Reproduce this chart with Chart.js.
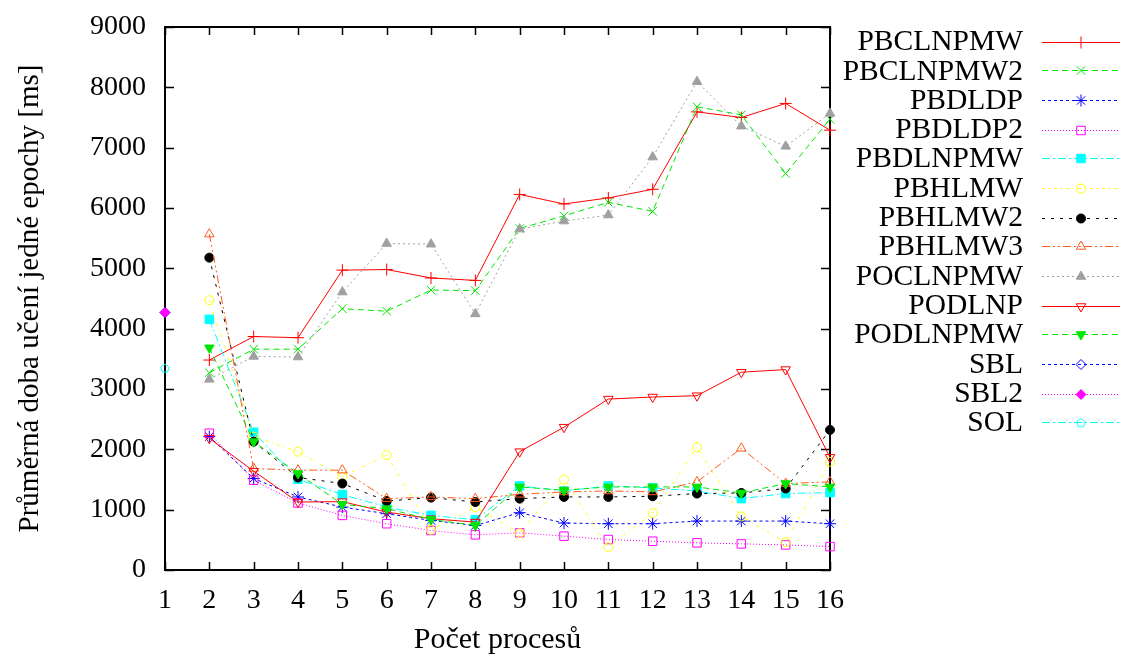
<!DOCTYPE html>
<html>
<head>
<meta charset="utf-8">
<title>Průměrná doba učení jedné epochy</title>
<script src="https://cdn.jsdelivr.net/npm/chart.js"></script>
<style>
  body { margin: 0; background: #fff; }
  canvas { display: block; }
</style>
</head>
<body>
<canvas id="epochChart" width="1125" height="659"></canvas>
<script>
// pocet procesu na ose x
const processes = [1, 2, 3, 4, 5, 6, 7, 8, 9, 10, 11, 12, 13, 14, 15, 16];
const yTicks = [0, 1000, 2000, 3000, 4000, 5000, 6000, 7000, 8000, 9000];

// doba uceni jedne epochy [ms], index 0 = 1 proces
const pbclnpmw  = [null, 3480, 3870, 3850, 4970, 4980, 4840, 4800, 6225, 6067, 6167, 6310, 7593, 7500, 7733, 7290];
const pbclnpmw2 = [null, 3270, 3660, 3660, 4330, 4290, 4640, 4630, 5660, 5870, 6094, 5944, 7678, 7544, 6572, 7470];
const pbdldp    = [null, 2211, 1517, 1211, 1043, 933, 822, 738, 950, 778, 767, 767, 811, 811, 811, 767];
const pbdldp2   = [null, 2267, 1489, 1111, 905, 767, 655, 583, 616, 561, 505, 477, 450, 433, 416, 388];
const pbdlnpmw  = [null, 4155, 2283, 1505, 1250, 1043, 905, 833, 1393, 1310, 1393, 1360, 1310, 1183, 1267, 1283];
const pbhlmw    = [null, 4472, 2211, 1961, 1544, 1905, 667, 1043, 611, 1500, 378, 943, 2033, 888, 461, 1794];
const pbhlmw2   = [null, 5177, 2127, 1533, 1433, 1143, 1200, 1127, 1183, 1211, 1211, 1222, 1267, 1277, 1350, 2322];
const pbhlmw3   = [null, 5567, 1683, 1655, 1655, 1183, 1211, 1183, 1255, 1294, 1310, 1294, 1461, 2017, 1433, 1461];
const poclnpmw  = [null, 3160, 3540, 3530, 4606, 5411, 5400, 4244, 5650, 5783, 5883, 6844, 8094, 7356, 7022, 7567];
const podlnp    = [null, 2183, 1638, 1127, 1133, 960, 850, 794, 1961, 2367, 2833, 2867, 2889, 3278, 3322, 1867];
const podlnpmw  = [null, 3683, 2127, 1600, 1088, 1017, 838, 738, 1377, 1322, 1377, 1377, 1377, 1277, 1433, 1377];
const sbl       = [4267, null, null, null, null, null, null, null, null, null, null, null, null, null, null, null];
const sbl2      = [4267, null, null, null, null, null, null, null, null, null, null, null, null, null, null, null];
const sol       = [3350, null, null, null, null, null, null, null, null, null, null, null, null, null, null, null];

const FONT = "'Liberation Serif', 'DejaVu Serif', serif";
const NONE = 'rgba(0,0,0,0)';

// petiuhelnik pro SOL (Chart.js ho nema)
function pentagon(color) {
    const c = document.createElement('canvas');
    c.width = 12; c.height = 12;
    const g = c.getContext('2d');
    g.strokeStyle = color;
    g.lineWidth = 1;
    g.beginPath();
    for (let i = 0; i < 5; i++) {
        const a = -Math.PI / 2 + i * 2 * Math.PI / 5;
        const px = 6 + 4.5 * Math.cos(a), py = 6.5 + 4.5 * Math.sin(a);
        i === 0 ? g.moveTo(px, py) : g.lineTo(px, py);
    }
    g.closePath();
    g.stroke();
    return c;
}

const series = [
    { label: 'PBCLNPMW',  data: pbclnpmw,  color: '#ff0000', dash: [],               style: 'cross',    fill: false, r: 6 },
    { label: 'PBCLNPMW2', data: pbclnpmw2, color: '#00e600', dash: [6, 4],           style: 'crossRot', fill: false, r: 6 },
    { label: 'PBDLDP',    data: pbdldp,    color: '#0000ff', dash: [3, 3],           style: 'star',     fill: false, r: 6 },
    { label: 'PBDLDP2',   data: pbdldp2,   color: '#ff00ff', dash: [1, 2],           style: 'rect',     fill: false, r: 6 },
    { label: 'PBDLNPMW',  data: pbdlnpmw,  color: '#00ffff', dash: [8, 3, 2, 3],     style: 'rect',     fill: true,  r: 6 },
    { label: 'PBHLMW',    data: pbhlmw,    color: '#ffff00', dash: [3, 4, 1, 4],     style: 'circle',   fill: false, r: 4.5 },
    { label: 'PBHLMW2',   data: pbhlmw2,   color: '#000000', dash: [3, 6],           style: 'circle',   fill: true,  r: 4.5 },
    { label: 'PBHLMW3',   data: pbhlmw3,   color: '#ff5a1e', dash: [8, 3, 2, 3, 2, 3], style: 'triangle', fill: false, r: 5.5 },
    { label: 'POCLNPMW',  data: poclnpmw,  color: '#a0a0a0', dash: [2, 3],           style: 'triangle', fill: true,  r: 5.5 },
    { label: 'PODLNP',    data: podlnp,    color: '#ff0000', dash: [],               style: 'triangle', fill: false, r: 5.5, rot: 180 },
    { label: 'PODLNPMW',  data: podlnpmw,  color: '#00e600', dash: [6, 4],           style: 'triangle', fill: true,  r: 5.5, rot: 180 },
    { label: 'SBL',       data: sbl,       color: '#0000ff', dash: [3, 3],           style: 'rectRot',  fill: false, r: 5 },
    { label: 'SBL2',      data: sbl2,      color: '#ff00ff', dash: [1, 2],           style: 'rectRot',  fill: true,  r: 5 },
    { label: 'SOL',       data: sol,       color: '#00ffff', dash: [8, 3, 2, 3],     style: 'pentagon', fill: false, r: 6 }
];

const datasets = series.map((s, i) => ({
    label: s.label,
    data: processes.map((p, k) => ({ x: p, y: s.data[k] })).filter(d => d.y !== null),
    borderColor: s.color,
    borderWidth: 1,
    borderDash: s.dash,
    pointStyle: s.style === 'pentagon' ? pentagon(s.color) : s.style,
    pointRotation: s.rot || 0,
    pointRadius: s.r,
    pointBorderWidth: 1,
    pointBorderColor: s.color,
    pointBackgroundColor: s.fill ? s.color : NONE,
    tension: 0,
    fill: false,
    clip: false,
    order: -i
}));

// ramecek s tickama dovnitr (gnuplot styl)
const framePlugin = {
    id: 'frame',
    beforeDatasetsDraw(chart) {
        const { ctx, chartArea: a, scales: { x, y } } = chart;
        ctx.save();
        ctx.strokeStyle = '#000';
        ctx.lineWidth = 1.5;
        ctx.beginPath();
        processes.forEach(p => {
            const px = Math.round(x.getPixelForValue(p)) + 0.5;
            ctx.moveTo(px, a.bottom); ctx.lineTo(px, a.bottom - 8);
            ctx.moveTo(px, a.top); ctx.lineTo(px, a.top + 8);
        });
        yTicks.forEach(v => {
            const py = Math.round(y.getPixelForValue(v)) + 0.5;
            ctx.moveTo(a.left, py); ctx.lineTo(a.left + 9, py);
            ctx.moveTo(a.right, py); ctx.lineTo(a.right - 9, py);
        });
        ctx.stroke();
        ctx.lineWidth = 2;
        ctx.strokeRect(a.left, a.top, a.right - a.left, a.bottom - a.top);
        ctx.restore();
    }
};

// legenda vpravo: text zarovnany doprava, vzorek cary za nim
const legendPlugin = {
    id: 'sideLegend',
    afterDraw(chart) {
        const { ctx } = chart;
        const textRight = 1023, lineL = 1042, lineR = 1120, mid = 1081;
        ctx.save();
        chart.data.datasets.forEach((ds, i) => {
            const row = 41.5 + i * 29.3;
            const yy = 2 * Math.round(row / 2) + 0.5;
            ctx.fillStyle = '#000';
            ctx.font = '29.5px ' + FONT;
            ctx.textAlign = 'right';
            ctx.textBaseline = 'middle';
            ctx.fillText(ds.label, textRight, row + 1);

            ctx.strokeStyle = ds.borderColor;
            ctx.lineWidth = 1;
            ctx.setLineDash(ds.borderDash);
            ctx.beginPath();
            ctx.moveTo(lineL, yy);
            ctx.lineTo(lineR, yy);
            ctx.stroke();
            ctx.setLineDash([]);

            ctx.fillStyle = ds.pointBackgroundColor;
            Chart.helpers.drawPoint(ctx, {
                pointStyle: ds.pointStyle,
                rotation: ds.pointRotation,
                radius: ds.pointRadius,
                borderWidth: 1
            }, mid, yy);
        });
        ctx.restore();
    }
};

new Chart(document.getElementById('epochChart'), {
    type: 'line',
    data: { datasets },
    options: {
        responsive: false,
        animation: false,
        devicePixelRatio: 1,
        layout: { padding: { top: 27, right: 295, left: 0, bottom: 0 } },
        plugins: { legend: { display: false }, tooltip: { enabled: false } },
        scales: {
            x: {
                type: 'linear',
                min: 1,
                max: 16,
                afterFit: s => { s.height = 89; s.paddingLeft = 0; s.paddingRight = 0; },
                afterBuildTicks: s => { s.ticks = processes.map(v => ({ value: v })); },
                grid: { display: false, drawTicks: false },
                border: { display: false },
                ticks: { color: '#000', padding: 14, font: { family: FONT, size: 28 }, maxRotation: 0 },
                title: {
                    display: true,
                    text: 'Počet procesů',
                    color: '#000',
                    font: { family: FONT, size: 30 },
                    padding: { top: 0, bottom: 1 }
                }
            },
            y: {
                min: 0,
                max: 9000,
                afterFit: s => { s.width = 165; s.paddingTop = 0; s.paddingBottom = 0; },
                afterBuildTicks: s => { s.ticks = yTicks.map(v => ({ value: v })); },
                grid: { display: false, drawTicks: false },
                border: { display: false },
                ticks: {
                    color: '#000',
                    padding: 19,
                    font: { family: FONT, size: 28 },
                    callback: v => String(v)
                },
                title: {
                    display: true,
                    text: 'Průměrná doba učení jedné epochy [ms]',
                    color: '#000',
                    font: { family: FONT, size: 29 },
                    padding: { top: 13, bottom: 0 }
                }
            }
        }
    },
    plugins: [framePlugin, legendPlugin]
});
</script>
</body>
</html>
